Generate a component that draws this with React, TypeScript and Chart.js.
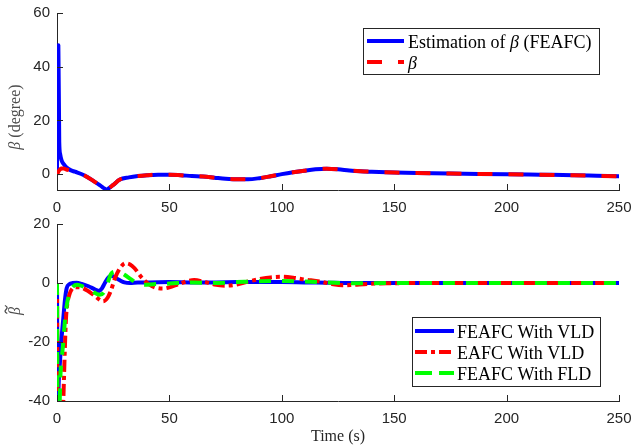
import React, { useEffect, useRef } from "react";
import { Chart, registerables } from "chart.js";

Chart.register(...registerables);

// ---------------- data ----------------
const xTicks = [0, 50, 100, 150, 200, 250];
const yTicksTop = [0, 20, 40, 60];
const yTicksBottom = [-40, -20, 0, 20];

const timeTop = [0, 0.3, 0.6, 1.0, 1.4, 2, 3, 4, 6, 8, 12, 16, 19, 21, 22, 23, 25, 28, 32, 36, 40, 45, 50, 55, 60, 65, 70, 75, 80, 85, 90, 95, 100, 105, 110, 115, 120, 125, 130, 135, 140, 150, 160, 175, 200, 215, 230, 240, 250];
const betaActual = [0, 0.4, 0.9, 1.4, 1.8, 2.1, 2.1, 1.8, 1.3, 0.8, -0.4, -2.4, -4.1, -5.3, -5.9, -5.3, -4.0, -2.0, -1.2, -0.7, -0.4, -0.2, -0.2, -0.4, -0.7, -0.9, -1.3, -1.7, -1.9, -1.9, -1.5, -0.8, 0, 0.7, 1.3, 1.8, 2.0, 1.8, 1.4, 1.1, 0.9, 0.6, 0.4, 0.2, 0, -0.2, -0.4, -0.6, -0.8];
const betaEstimate = [0, 46, 48, 12, 7.5, 5.2, 3.7, 2.7, 1.5, 0.9, -0.4, -2.4, -4.1, -5.3, -5.9, -5.3, -4.0, -2.0, -1.2, -0.7, -0.4, -0.2, -0.2, -0.4, -0.7, -0.9, -1.3, -1.7, -1.9, -1.9, -1.5, -0.8, 0, 0.7, 1.3, 1.8, 2.0, 1.8, 1.4, 1.1, 0.9, 0.6, 0.4, 0.2, 0, -0.2, -0.4, -0.6, -0.8];

const timeFeafcVld = [0, 0.3, 0.8, 1.3, 2, 2.8, 3.5, 4.3, 5.5, 7, 8.7, 11, 14, 17, 18.8, 20, 21.3, 23, 24.3, 26, 28, 30, 32.5, 36, 40, 50, 60, 70, 80, 90, 100, 110, 120, 130, 140, 160, 200, 250];
const errFeafcVld = [0, -45, -33, -27, -19, -12, -6, -1.8, -0.4, 0, 0.1, -0.3, -1.1, -2.2, -2.7, -1.8, 0, 2.0, 2.5, 1.8, 0.9, 0.2, 0, 0.2, 0.2, 0.3, 0.2, 0.2, 0.3, 0.3, 0.3, 0.2, 0.1, 0, 0, 0, 0, 0];

const timeEafcVld = [0, 0.3, 2.2, 2.6, 3.0, 3.5, 4.0, 4.6, 5.5, 6.5, 8, 11, 14, 17, 20.5, 22.5, 24, 26, 28, 30.5, 32.5, 34.5, 37.5, 41, 44, 47, 50, 54, 58, 61, 65, 70, 75, 80, 85, 90, 95, 100, 105, 110, 117, 122, 127, 132, 138, 148, 160, 200, 250];
const errEafcVld = [0, -55, -55, -45, -35, -22, -12, -7, -4, -2.2, -1.4, -1.6, -2.8, -4.5, -6.2, -5, -2.5, 2, 5, 6.7, 6.3, 5, 2, -0.5, -1.6, -1.9, -1.5, -0.4, 0.6, 1.0, 0.5, -0.5, -0.9, -0.5, 0.5, 1.3, 1.9, 2.1, 1.8, 1.2, 0.5, -0.3, -0.8, -0.6, -0.3, -0.1, 0, 0, 0];

const timeFeafcFld = [0, 0.3, 1.0, 1.6, 2.3, 2.8, 3.5, 4.3, 5.5, 7.3, 9, 11.7, 15, 19, 21, 22.5, 24, 26, 28, 30, 33, 36, 39, 43, 50, 60, 70, 80, 90, 100, 110, 120, 130, 150, 200, 250];
const errFeafcFld = [0, -55, -45, -30, -24, -20, -13, -7.8, -3.5, -1.1, -0.6, -1.2, -2.5, -4, -3, 0, 3, 3.8, 3.6, 2.8, 1.2, -0.2, -0.6, -0.4, -0.2, 0.2, 0, 0.3, 0.6, 0.7, 0.5, 0.2, -0.1, 0, 0, 0];

// ---------------- styles ----------------
const AXIS = "#262626";
const SANS = '"Liberation Sans", Arial, sans-serif';
const SERIF = '"Liberation Serif", "Times New Roman", serif';
const BLUE = "#0000ff";
const RED = "#ff0000";
const GREEN = "#00ff00";

type Part = { text: string; italic?: boolean; tilde?: boolean };
type LegendRow = { y: number; color: string; dash: number[]; parts: Part[] };

const pts = (xs: number[], ys: number[]) => xs.map((x, i) => ({ x, y: ys[i] }));

function drawRich(ctx: CanvasRenderingContext2D, parts: Part[], x: number, y: number, size: number, center: boolean) {
  const fontOf = (p: Part) => `${p.italic ? "italic " : ""}${size}px ${SERIF}`;
  let total = 0;
  for (const p of parts) { ctx.font = fontOf(p); total += ctx.measureText(p.text).width; }
  let cx = center ? x - total / 2 : x;
  for (const p of parts) {
    ctx.font = fontOf(p);
    const w = ctx.measureText(p.text).width;
    ctx.fillText(p.text, cx, y);
    if (p.tilde) {
      // tilde accent drawn as a small wave above the glyph
      const mx = cx + w / 2 + 1.5;
      const my = y - size * 0.62;
      ctx.save();
      ctx.strokeStyle = ctx.fillStyle as string;
      ctx.lineWidth = 1.3;
      ctx.beginPath();
      ctx.moveTo(mx - 4, my + 1.2);
      ctx.bezierCurveTo(mx - 2.5, my - 2.2, mx - 1, my - 1, mx, my);
      ctx.bezierCurveTo(mx + 1, my + 1, mx + 2.5, my + 2.2, mx + 4, my - 1.2);
      ctx.stroke();
      ctx.restore();
    }
    cx += w;
  }
}

function makeDecor(cfg: {
  yLabel: Part[]; yLabelX: number; yLabelY: number;
  xLabel?: string; xLabelY?: number;
  box: [number, number, number, number];
  sampleX: [number, number]; textX: number; rows: LegendRow[];
}) {
  return {
    id: "decor",
    afterDraw(chart: any) {
      const ctx: CanvasRenderingContext2D = chart.ctx;
      const { left, right, bottom } = chart.chartArea;
      const xs = chart.scales.x, ys = chart.scales.y;
      ctx.save();
      // inward ticks
      ctx.strokeStyle = AXIS; ctx.lineWidth = 1; ctx.setLineDash([]);
      ctx.beginPath();
      for (const t of xs.ticks) {
        const px = Math.round(xs.getPixelForValue(t.value)) + 0.5;
        ctx.moveTo(px, bottom); ctx.lineTo(px, bottom - 6);
      }
      for (const t of ys.ticks) {
        const py = Math.round(ys.getPixelForValue(t.value)) + 0.5;
        ctx.moveTo(left, py); ctx.lineTo(left + 6, py);
      }
      ctx.stroke();
      // y label
      ctx.fillStyle = "#4d4d4d";
      ctx.textBaseline = "middle";
      ctx.textAlign = "left";
      ctx.save();
      ctx.translate(cfg.yLabelX, cfg.yLabelY);
      ctx.rotate(-Math.PI / 2);
      drawRich(ctx, cfg.yLabel, 0, 0, 16, true);
      ctx.restore();
      // x label
      if (cfg.xLabel) {
        ctx.fillStyle = AXIS;
        drawRich(ctx, [{ text: cfg.xLabel }], (left + right) / 2, cfg.xLabelY!, 16, true);
      }
      // legend
      const [bx, by, bw, bh] = cfg.box;
      ctx.fillStyle = "#ffffff";
      ctx.fillRect(bx, by, bw, bh);
      ctx.strokeStyle = AXIS; ctx.lineWidth = 1;
      ctx.strokeRect(bx + 0.5, by + 0.5, bw, bh);
      for (const r of cfg.rows) {
        ctx.strokeStyle = r.color; ctx.lineWidth = 4; ctx.lineCap = "butt";
        ctx.setLineDash(r.dash);
        ctx.beginPath(); ctx.moveTo(cfg.sampleX[0], r.y); ctx.lineTo(cfg.sampleX[1], r.y); ctx.stroke();
        ctx.setLineDash([]);
        ctx.fillStyle = "#000000";
        ctx.textBaseline = "alphabetic";
        drawRich(ctx, r.parts, cfg.textX, r.y + 7, 18, false);
      }
      ctx.restore();
    },
  };
}

function axisOptions(min: number, max: number, ticks: number[], padding: number, size: { w?: number; h?: number }) {
  return {
    type: "linear",
    min, max,
    grid: { display: false, drawTicks: false },
    border: { display: true, color: AXIS, width: 1 },
    ticks: { color: AXIS, font: { family: SANS, size: 15 }, autoSkip: false, maxRotation: 0, includeBounds: false, padding },
    afterBuildTicks: (s: any) => { s.ticks = ticks.map((v) => ({ value: v })); },
    afterFit: (s: any) => {
      if (size.w !== undefined) s.width = size.w;
      if (size.h !== undefined) s.height = size.h;
      s.paddingTop = 0; s.paddingBottom = 0; s.paddingLeft = 0; s.paddingRight = 0;
    },
  };
}

function lineDs(label: string, data: any[], color: string, dash: number[], order: number) {
  return {
    label, data, borderColor: color, backgroundColor: color, borderWidth: 4,
    borderDash: dash, pointRadius: 0, fill: false, cubicInterpolationMode: "monotone",
    borderCapStyle: "butt", borderJoinStyle: "round", order,
  };
}

export default function App() {
  const topRef = useRef<HTMLCanvasElement>(null);
  const botRef = useRef<HTMLCanvasElement>(null);

  useEffect(() => {
    const common = {
      responsive: false,
      animation: false,
      events: [],
      plugins: { legend: { display: false }, tooltip: { enabled: false }, title: { display: false } },
    };

    const top = new Chart(topRef.current!, {
      type: "line",
      data: {
        datasets: [
          lineDs("Estimation of β (FEAFC)", pts(timeTop, betaEstimate), BLUE, [], 1),
          lineDs("β", pts(timeTop, betaActual), RED, [15, 16], 0),
        ],
      },
      options: {
        ...common,
        layout: { padding: { top: 13, right: 14, left: 0, bottom: 0 } },
        scales: {
          x: axisOptions(0, 250, xTicks, 9, { h: 25 }),
          y: axisOptions(-5.9, 60, yTicksTop, 7, { w: 57 }),
        },
      } as any,
      plugins: [makeDecor({
        yLabel: [{ text: "β", italic: true }, { text: " (degree)" }], yLabelX: 16, yLabelY: 117,
        box: [363, 28, 236, 46], sampleX: [367, 404], textX: 408,
        rows: [
          { y: 41, color: BLUE, dash: [], parts: [{ text: "Estimation of " }, { text: "β", italic: true }, { text: " (FEAFC)" }] },
          { y: 62, color: RED, dash: [15, 16], parts: [{ text: "β", italic: true }] },
        ],
      })],
    } as any);

    const bot = new Chart(botRef.current!, {
      type: "line",
      data: {
        datasets: [
          lineDs("FEAFC With VLD", pts(timeFeafcVld, errFeafcVld), BLUE, [], 2),
          lineDs("EAFC With VLD", pts(timeEafcVld, errEafcVld), RED, [12, 4, 4, 4], 1),
          lineDs("FEAFC With FLD", pts(timeFeafcFld, errFeafcFld), GREEN, [12, 11], 0),
        ],
      },
      options: {
        ...common,
        layout: { padding: { top: 9, right: 14, left: 0, bottom: 0 } },
        scales: {
          x: axisOptions(0, 250, xTicks, 9, { h: 46 }),
          y: axisOptions(-40, 20, yTicksBottom, 7, { w: 57 }),
        },
      } as any,
      plugins: [makeDecor({
        yLabel: [{ text: "β", italic: true, tilde: true }], yLabelX: 16, yLabelY: 96,
        xLabel: "Time (s)", xLabelY: 222,
        box: [412, 102, 188, 69], sampleX: [415, 454], textX: 457,
        rows: [
          { y: 116, color: BLUE, dash: [], parts: [{ text: "FEAFC With VLD" }] },
          { y: 137, color: RED, dash: [12, 4, 4, 4], parts: [{ text: "EAFC With VLD" }] },
          { y: 158, color: GREEN, dash: [17, 7], parts: [{ text: "FEAFC With FLD" }] },
        ],
      })],
    } as any);

    return () => { top.destroy(); bot.destroy(); };
  }, []);

  return (
    <div style={{ position: "fixed", left: 0, top: 0, width: 633, height: 447, background: "#ffffff" }}>
      <canvas ref={topRef} width={633} height={215} style={{ position: "absolute", left: 0, top: 0, width: 633, height: 215 }} />
      <canvas ref={botRef} width={633} height={232} style={{ position: "absolute", left: 0, top: 215, width: 633, height: 232 }} />
    </div>
  );
}
